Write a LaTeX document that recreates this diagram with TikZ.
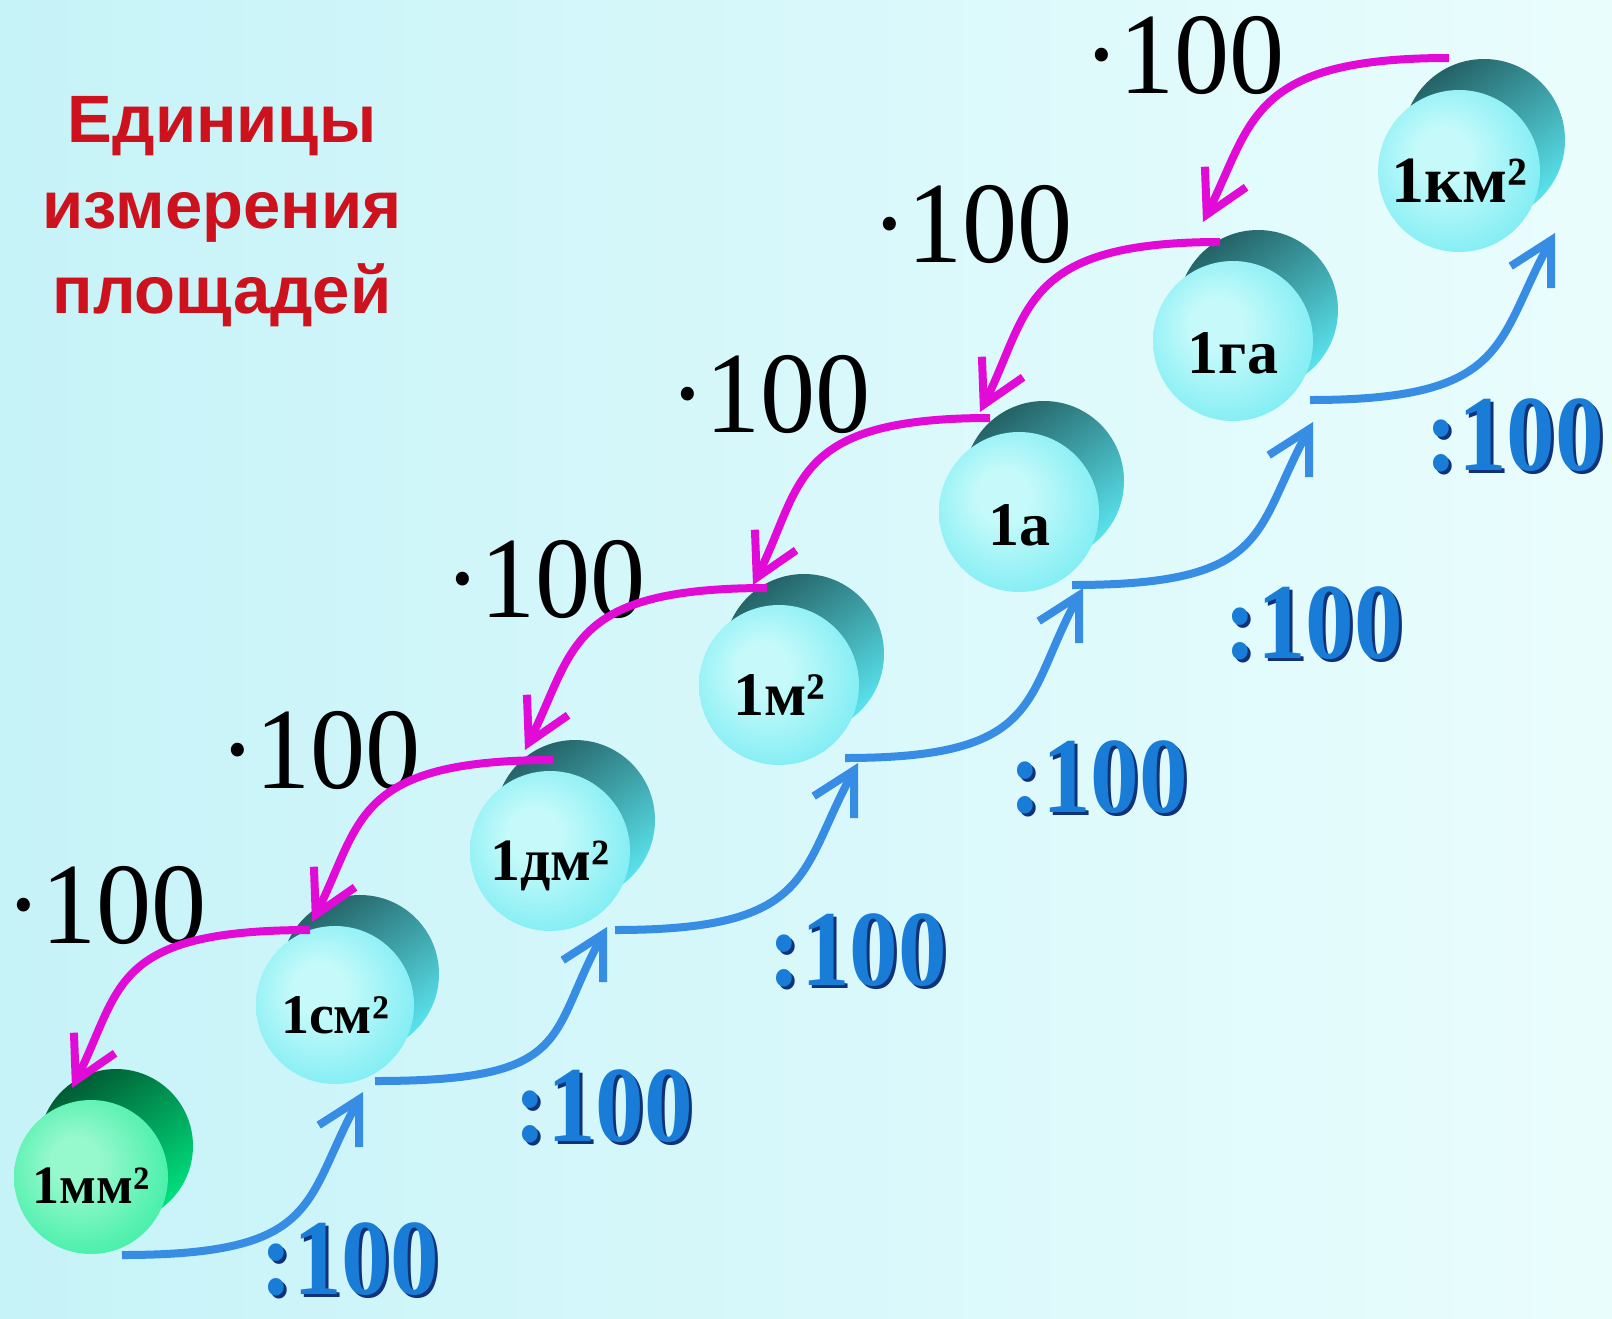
\documentclass[tikz,border=0pt]{standalone}
\usepackage{fontspec}
\setmainfont{Liberation Serif}
\newfontfamily\titlefont{Liberation Sans}
\usetikzlibrary{arrows.meta}

\definecolor{bgL}{RGB}{198,243,248}
\definecolor{bgR}{RGB}{234,253,253}
\definecolor{cyEdge}{RGB}{75,222,233}
\definecolor{cyMidF}{RGB}{120,236,243}
\definecolor{cyHi}{RGB}{198,250,250}
\definecolor{cyDark}{RGB}{36,98,102}
\definecolor{cyMid}{RGB}{58,168,175}
\definecolor{cyLight}{RGB}{90,228,238}
\definecolor{grEdge}{RGB}{0,228,135}
\definecolor{grMidF}{RGB}{60,238,165}
\definecolor{grHi}{RGB}{150,248,205}
\definecolor{grDark}{RGB}{0,92,52}
\definecolor{grMid}{RGB}{0,155,90}
\definecolor{grLight}{RGB}{0,225,125}
\definecolor{mag}{RGB}{225,10,215}
\definecolor{arrblue}{RGB}{55,140,228}
\definecolor{txtblue}{RGB}{25,125,215}
\definecolor{txtshadow}{RGB}{15,50,120}
\definecolor{titlered}{RGB}{205,18,30}

\pgfdeclareradialshading{cyfront}{\pgfpoint{-6bp}{6bp}}{color(0bp)=(cyHi); color(8bp)=(cyHi); color(32bp)=(cyMidF); color(50bp)=(cyEdge)}
\pgfdeclareradialshading{grfront}{\pgfpoint{-6bp}{6bp}}{color(0bp)=(grHi); color(8bp)=(grHi); color(32bp)=(grMidF); color(50bp)=(grEdge)}

\tikzset{
  magarrow/.style={draw=mag, line width=4pt, -{Straight Barb[length=21pt,width=23pt]}},
  bluearrow/.style={draw=arrblue, line width=4pt, -{Straight Barb[length=21pt,width=23pt]}},
  balltext/.style={anchor=base, inner sep=0pt, text=black},
  blacknum/.style={anchor=base, inner sep=0pt, text=black, font=\fontsize{58}{58}\selectfont},
  bluenum/.style={anchor=base, inner sep=0pt, text=txtblue, font=\bfseries\fontsize{54}{54}\selectfont},
  bluenumshadow/.style={anchor=base, inner sep=0pt, text=txtshadow, font=\bfseries\fontsize{54}{54}\selectfont},
  titletext/.style={anchor=base, inner sep=0pt, text=titlered, font=\titlefont\bfseries\fontsize{33.5}{33.5}\selectfont},
}

\newcommand\areaball[8]{%
  \shade[top color=#6Dark, middle color=#6Mid, bottom color=#6Light, shading angle=35] (#2+25,#3-31) circle[radius=#8];
  \shade[shading=#6front] (#2,#3) circle[radius=#8];
  \node[balltext, font=\bfseries\fontsize{#7}{#7}\selectfont] (#1) at (#2,#4) {#5};
}

\begin{document}
\begin{tikzpicture}[x=0.5pt,y=-0.5pt]
\useasboundingbox (0,0) rectangle (1612,1318);
\shade[left color=bgL, right color=bgR] (0,0) rectangle (1612,1318);

% title
\node[titletext] (t1) at (222,142) {Единицы};
\node[titletext] (t2) at (222,228) {измерения};
\node[titletext] (t3) at (222,313) {площадей};

% balls
\areaball{mm}{91}{1177}{1203}{1мм²}{gr}{27}{77}
\areaball{cm}{335}{1005}{1033}{1см²}{cy}{28}{79}
\areaball{dm}{550}{851}{880}{1дм²}{cy}{30}{80}
\areaball{m}{779}{685}{715}{1м²}{cy}{31}{80}
\areaball{a}{1019}{512}{545}{1а}{cy}{31}{80}
\areaball{ga}{1233}{341}{373}{1га}{cy}{31}{80}
\areaball{km}{1459}{171}{202}{1км²}{cy}{33}{81}

% multiplication labels
\node[blacknum] (p1) at (106,943) {\scalebox{0.95}[1]{·100}};
\node[blacknum] (p2) at (320,788) {\scalebox{0.95}[1]{·100}};
\node[blacknum] (p3) at (545,617) {\scalebox{0.95}[1]{·100}};
\node[blacknum] (p4) at (770,432) {\scalebox{0.95}[1]{·100}};
\node[blacknum] (p5) at (972,262) {\scalebox{0.95}[1]{·100}};
\node[blacknum] (p6) at (1184,93) {\scalebox{0.95}[1]{·100}};

% division labels
\node[bluenumshadow] (d1s) at (353,1297) {\scalebox{0.9}[1]{:100}};
\node[bluenum] (d1) at (350,1294) {\scalebox{0.9}[1]{:100}};
\node[bluenumshadow] (d2s) at (607,1144) {\scalebox{0.9}[1]{:100}};
\node[bluenum] (d2) at (604,1141) {\scalebox{0.9}[1]{:100}};
\node[bluenumshadow] (d3s) at (861,988) {\scalebox{0.9}[1]{:100}};
\node[bluenum] (d3) at (858,985) {\scalebox{0.9}[1]{:100}};
\node[bluenumshadow] (d4s) at (1102,815) {\scalebox{0.9}[1]{:100}};
\node[bluenum] (d4) at (1099,812) {\scalebox{0.9}[1]{:100}};
\node[bluenumshadow] (d5s) at (1317,661) {\scalebox{0.9}[1]{:100}};
\node[bluenum] (d5) at (1314,658) {\scalebox{0.9}[1]{:100}};
\node[bluenumshadow] (d6s) at (1518,473) {\scalebox{0.9}[1]{:100}};
\node[bluenum] (d6) at (1515,470) {\scalebox{0.9}[1]{:100}};

% arrow end points
\coordinate (km-out) at (1449,58);  \coordinate (ga-in) at (1203,222);
\coordinate (ga-out) at (1220,242); \coordinate (a-in) at (980,412);
\coordinate (a-out) at (990,418);   \coordinate (m-in) at (753,585);
\coordinate (m-out) at (767,588);   \coordinate (dm-in) at (525,750);
\coordinate (dm-out) at (553,760);  \coordinate (cm-in) at (312,922);
\coordinate (cm-out) at (310,930);  \coordinate (mm-in) at (72,1088);

\coordinate (mm-up) at (122,1255);  \coordinate (cm-from) at (363,1092);
\coordinate (cm-up) at (375,1081);  \coordinate (dm-from) at (607,927);
\coordinate (dm-up) at (615,930);   \coordinate (m-from) at (858,763);
\coordinate (m-up) at (845,758);    \coordinate (a-from) at (1083,588);
\coordinate (a-up) at (1072,585);   \coordinate (ga-from) at (1313,422);
\coordinate (ga-up) at (1310,400);  \coordinate (km-from) at (1555,233);

% magenta arrows (x100)
\foreach \s/\e in {km-out/ga-in, ga-out/a-in, a-out/m-in, m-out/dm-in, dm-out/cm-in, cm-out/mm-in}
  \draw[magarrow] (\s) .. controls +(-200,0) and +(50,-100) .. (\e);

% blue arrows (:100)
\foreach \s/\e in {mm-up/cm-from, cm-up/dm-from, dm-up/m-from, m-up/a-from, a-up/ga-from, ga-up/km-from}
  \draw[bluearrow] (\s) .. controls +(200,0) and +(-60,110) .. (\e);
\end{tikzpicture}
\end{document}
